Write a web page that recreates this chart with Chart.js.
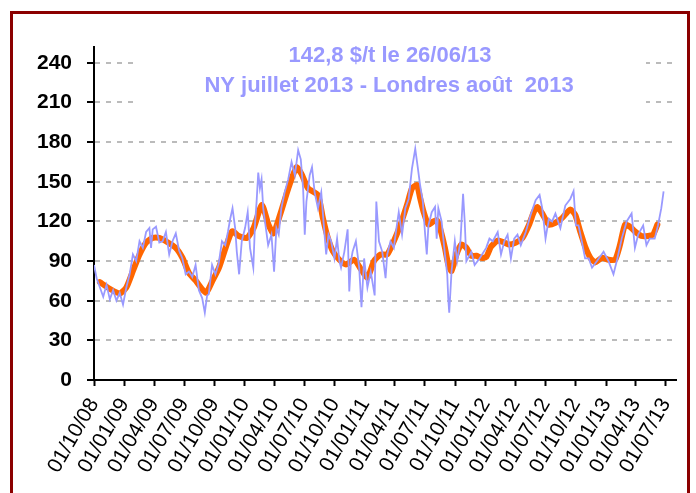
<!DOCTYPE html>
<html>
<head>
<meta charset="utf-8">
<script src="https://cdn.jsdelivr.net/npm/chart.js@4/dist/chart.umd.min.js"></script>
<style>
  body { margin: 0; background: #fff; overflow: hidden; }
  #wrap { position: relative; width: 696px; height: 493px; }
  #frame { position: absolute; left: 10px; top: 11px; width: 674px; height: 500px;
           border: 3px solid #8b0000; pointer-events: none; }
</style>
</head>
<body>
<div id="wrap">
  <canvas id="priceChart"></canvas>
  <div id="frame"></div>
</div>
<script>
// Title lines
const titleLines = ['142,8 $/t le 26/06/13', 'NY juillet 2013 - Londres août  2013'];

// X tick labels (quarters, dd/mm/yy)
const tickLabels = ['01/10/08', '01/01/09', '01/04/09', '01/07/09', '01/10/09', '01/01/10',
  '01/04/10', '01/07/10', '01/10/10', '01/01/11', '01/04/11', '01/07/11', '01/10/11',
  '01/01/12', '01/04/12', '01/07/12', '01/10/12', '01/01/13', '01/04/13', '01/07/13'];
const axisEnd = '01/08/13';
const yTicks = [0, 30, 60, 90, 120, 150, 180, 210, 240];

// Daily price (days after 01/10/08), $/t
const priceDays = [0, 8, 18, 28, 38, 48, 58, 68, 78, 88, 98, 108, 118, 128, 138, 148, 158, 168, 173, 178,
  188, 198, 208, 218, 228, 238, 248, 258, 268, 278, 288, 298, 308, 318, 328, 336, 343, 348, 358, 368,
  378, 388, 398, 406, 413, 420, 428, 433, 440, 448, 458, 466, 473, 483, 488, 493, 498, 503, 508, 513,
  520, 528, 538, 546, 553, 560, 568, 578, 589, 599, 609, 619, 627, 634, 639, 644, 654, 661, 669, 679,
  689, 699, 704, 711, 719, 729, 737, 744, 749, 759, 769, 774, 779, 784, 794, 804, 811, 819, 829, 839,
  851, 856, 864, 874, 884, 889, 899, 909, 917, 924, 934, 944, 954, 964, 974, 981, 989, 997, 1004, 1009,
  1014, 1024, 1034, 1039, 1044, 1054, 1064, 1071, 1074, 1077, 1084, 1094, 1101, 1111, 1119, 1124, 1129, 1144, 1154, 1169,
  1189, 1199, 1209, 1224, 1234, 1244, 1254, 1264, 1274, 1284, 1294, 1309, 1324, 1339, 1351, 1359, 1369, 1379, 1389, 1399,
  1414, 1429, 1444, 1454, 1461, 1469, 1479, 1489, 1500, 1510, 1525, 1545, 1560, 1575, 1585, 1600, 1615, 1630, 1640, 1650,
  1665, 1675, 1685, 1700, 1710, 1720, 1727];
const priceValues = [87, 77, 70, 63, 72, 61, 68, 60, 66, 57, 70, 80, 95, 90, 105, 100, 112, 115, 100, 114,
  116, 104, 105, 112, 95, 105, 111, 98, 92, 80, 82, 78, 87, 68, 62, 51, 64, 65, 87, 80,
  88, 105, 102, 112, 122, 130, 115, 97, 80, 105, 115, 127, 100, 85, 117, 135, 157, 145, 152, 130,
  117, 102, 110, 82, 115, 110, 130, 142, 152, 165, 155, 174, 167, 145, 110, 135, 155, 161, 142, 130,
  142, 110, 95, 110, 105, 92, 107, 90, 85, 97, 114, 67, 90, 97, 105, 85, 55, 92, 70, 82,
  64, 135, 105, 97, 77, 95, 105, 100, 115, 127, 110, 130, 137, 160, 175, 162, 147, 135, 110, 95,
  117, 127, 131, 107, 130, 120, 95, 80, 62, 51, 82, 105, 90, 105, 141, 120, 90, 97, 87, 92,
  100, 107, 105, 112, 95, 105, 110, 92, 107, 110, 102, 112, 125, 136, 140, 130, 107, 122, 120, 126,
  115, 132, 137, 143, 117, 117, 105, 92, 92, 85, 90, 97, 90, 80, 90, 107, 120, 126, 100, 110,
  117, 102, 107, 107, 117, 130, 142.8];

// Moving average
const avgDays = [18, 48, 78, 98, 118, 138, 158, 178, 198, 218, 248, 268, 288, 309, 339, 359, 379, 399, 419, 439,
  464, 484, 509, 529, 544, 564, 589, 614, 629, 649, 679, 694, 709, 724, 744, 764, 789, 809, 829, 849,
  869, 889, 909, 929, 949, 964, 979, 989, 999, 1014, 1029, 1039, 1049, 1064, 1074, 1084, 1099, 1114, 1129, 1144,
  1159, 1174, 1189, 1204, 1224, 1244, 1259, 1279, 1299, 1319, 1334, 1344, 1359, 1379, 1399, 1419, 1444, 1459, 1474, 1489,
  1505, 1520, 1540, 1560, 1580, 1595, 1610, 1625, 1640, 1660, 1680, 1695, 1708];
const avgValues = [74, 69, 65.5, 70, 82.5, 95, 104, 107.5, 107.5, 105, 100, 92.5, 81, 75, 66, 75, 85, 100, 112.5, 109,
  107.5, 115, 132.5, 117.5, 111, 125, 145, 161, 156, 145, 140, 122.5, 107.5, 97.5, 91, 87.5, 91, 84, 77.5, 90,
  95, 95, 105, 117.5, 132.5, 145, 147.5, 137.5, 127.5, 117.5, 120, 121, 115, 100, 87.5, 82.5, 95, 102.5, 100, 94,
  94, 92.5, 93, 101, 105.5, 104, 102.5, 104, 107.5, 117.5, 127.5, 131, 126, 117.5, 119, 122.5, 129, 125, 112.5, 101,
  92.5, 89, 92.5, 91, 91, 102.5, 117.5, 116, 112.5, 109, 109, 110, 117.5];

function dayOf(label) {
  const p = label.split('/');
  const t = Date.UTC(2000 + (+p[2]), +p[1] - 1, +p[0]);
  return Math.round((t - Date.UTC(2008, 9, 1)) / 86400000);
}
const tickDays = tickLabels.map(dayOf);

// white box with the two lavender title lines
const titleBox = {
  id: 'titleBox',
  afterDatasetsDraw(chart) {
    const ctx = chart.ctx;
    ctx.save();
    ctx.fillStyle = '#fff';
    ctx.fillRect(134, 36, 512, 80);
    ctx.fillStyle = '#9999ff';
    ctx.font = 'bold 22px "Liberation Sans", Arial, sans-serif';
    ctx.textAlign = 'center';
    ctx.textBaseline = 'alphabetic';
    ctx.fillText(titleLines[0], 390, 62);
    ctx.fillText(titleLines[1], 389, 92);
    ctx.restore();
  }
};

const ctx = document.getElementById('priceChart').getContext('2d');
const priceChart = new Chart(ctx, {
  type: 'line',
  data: {
    datasets: [{
      label: 'Prix',
      data: priceDays.map((d, i) => ({ x: d, y: priceValues[i] })),
      borderColor: '#9999ff',
      borderWidth: 1.8,
      pointRadius: 0,
      tension: 0
    }, {
      label: 'Moyenne',
      data: avgDays.map((d, i) => ({ x: d, y: avgValues[i] })),
      borderColor: '#ff6600',
      borderWidth: 6,
      pointRadius: 0,
      borderJoinStyle: 'round',
      borderCapStyle: 'round',
      tension: 0.2
    }]
  },
  options: {
    responsive: true,
    maintainAspectRatio: false,
    animation: false,
    layout: { padding: { left: 0, top: 47, right: 15, bottom: 0 } },
    plugins: {
      legend: { display: false },
      tooltip: { enabled: false }
    },
    scales: {
      x: {
        type: 'linear',
        min: 0,
        max: dayOf(axisEnd),
        afterBuildTicks: (scale) => { scale.ticks = tickDays.map(v => ({ value: v })); },
        afterFit: (scale) => { scale.height = 113; },
        grid: { drawOnChartArea: false, tickLength: 6, tickWidth: 2, tickColor: '#000' },
        border: { color: '#000', width: 2 },
        ticks: {
          autoSkip: false,
          minRotation: 60,
          maxRotation: 60,
          padding: 8,
          color: '#000',
          font: { family: '"Liberation Sans", Arial, sans-serif', size: 21 },
          callback: (v) => tickLabels[tickDays.indexOf(v)]
        }
      },
      y: {
        min: 0,
        max: 252,
        afterBuildTicks: (scale) => { scale.ticks = yTicks.map(v => ({ value: v })); },
        afterFit: (scale) => { scale.width = 94; },
        grid: { color: '#bbbbbb', lineWidth: 2, tickLength: 7, tickWidth: 2, tickColor: '#000' },
        border: { color: '#000', width: 2, dash: [5, 6] },
        ticks: {
          padding: 15,
          color: '#000',
          font: { family: '"Liberation Sans", Arial, sans-serif', size: 21, weight: 'bold' }
        }
      }
    }
  },
  plugins: [titleBox]
});
</script>
</body>
</html>
